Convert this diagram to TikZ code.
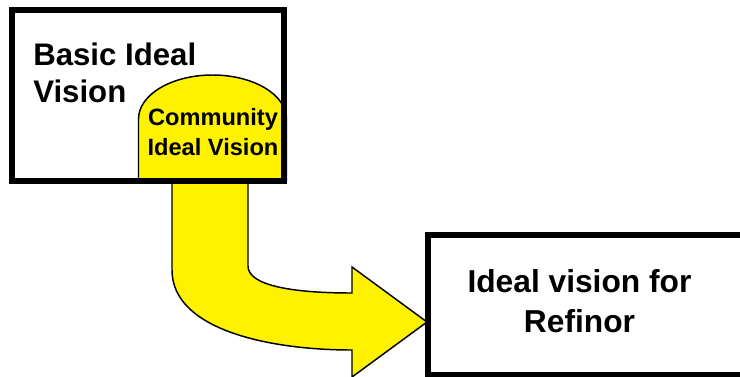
\documentclass[tikz,border=0pt]{standalone}
\usepackage{fontspec}
\setmainfont{Liberation Sans}
\begin{document}
\begin{tikzpicture}[x=0.75pt,y=-0.75pt,
  frame/.style={draw=black, line width=4.5pt, inner sep=0pt},
  yellowshape/.style={fill=yellow, draw=black, line width=1.1pt, line join=miter},
  label/.style={inner sep=0pt, font=\bfseries, align=center}]
\useasboundingbox (0,0) rectangle (740,376);
\clip (0,0) rectangle (740,376);
\fill[white] (0,0) rectangle (740,376);

% bent arrow leading from the first box to the second
\draw[yellowshape] (172,181) -- (172,270)
  .. controls (172,330) and (270,350) .. (352,350)
  -- (352,377) -- (427,322) -- (352,267) -- (352,293)
  .. controls (290,293) and (248,285) .. (248,266)
  -- (248,181) -- cycle;

% dome holding the community vision
\draw[yellowshape] (138.5,181) -- (138.5,119)
  .. controls (138.5,94.7) and (171.6,75) .. (212.5,75)
  .. controls (253.4,75) and (286.5,94.7) .. (286.5,119)
  -- (286.5,181) -- cycle;

% boxes
\node[frame, minimum width=204pt, minimum height=128.25pt] (basic) at (148,95.8) {};
\node[frame, fill=white, minimum width=264pt, minimum height=105pt] (refinor) at (604,305) {};

% labels (anchored at the baseline of their last line)
\node[label, anchor=base west, align=left, font=\bfseries\fontsize{23.4}{27.75}\selectfont]
  (basictext) at (33,102) {Basic Ideal\\Vision};
\node[label, anchor=base, font=\bfseries\fontsize{17.7}{22.5}\selectfont]
  (communitytext) at (213,155) {Community\\Ideal Vision};
\node[label, anchor=base, font=\bfseries\fontsize{23.8}{30}\selectfont]
  (refinortext) at (579.5,332) {Ideal vision for\\Refinor};
\end{tikzpicture}
\end{document}
